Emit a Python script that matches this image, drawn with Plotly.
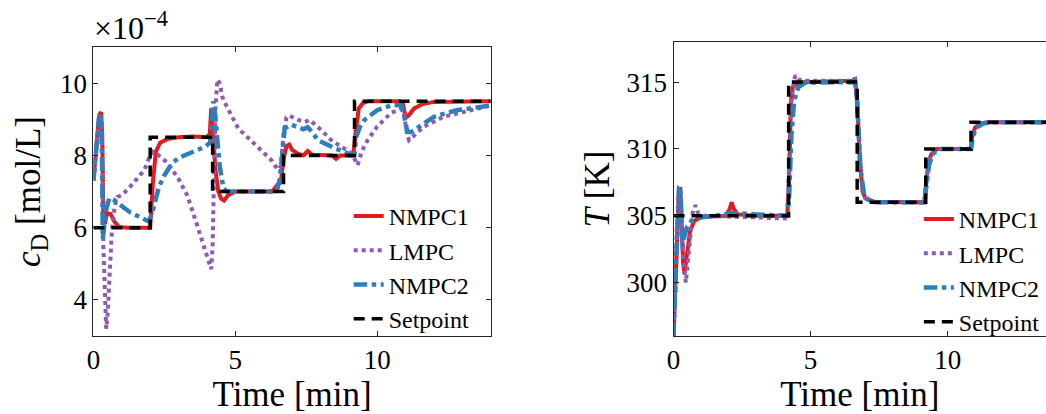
import plotly.graph_objects as go

# ---------------- data: left panel (c_D, in units of 1e-4 mol/L) ----------------
sp_c_t = [0.0, 2.0, 4.2, 6.7, 9.2, 14.0]
sp_c_v = [6.0, 8.5, 7.0, 8.0, 9.5, 9.5]

n1_c_t = [0.0, 0.1, 0.2, 0.27, 0.31, 0.35, 0.40, 0.48, 0.6, 0.75, 0.9, 1.2, 2.0, 2.1, 2.2, 2.35, 2.6, 3.0, 3.5, 4.0,
          4.1, 4.15, 4.22, 4.3, 4.4, 4.5, 4.6, 4.75, 5.0, 6.3, 6.5, 6.6, 6.7, 6.8, 6.9, 7.0, 7.2, 7.4, 7.55, 7.7,
          8.4, 8.55, 8.7, 9.15, 9.25, 9.35, 9.5, 9.7, 10.8, 10.9, 11.0, 11.1, 11.3, 11.6, 12.0, 14.0]
n1_c_v = [7.3, 8.3, 9.1, 9.2, 8.6, 6.3, 6.1, 6.4, 6.38, 6.15, 6.02, 6.0, 6.0, 7.3, 8.1, 8.35, 8.45, 8.5, 8.52, 8.5,
          8.6, 9.3, 8.6, 7.6, 7.0, 6.8, 6.75, 6.9, 7.0, 7.0, 7.2, 7.25, 7.9, 8.25, 8.3, 8.15, 8.05, 8.0, 8.12, 8.02,
          8.0, 7.9, 8.0, 8.0, 8.7, 9.3, 9.45, 9.5, 9.5, 9.45, 9.05, 9.1, 9.3, 9.42, 9.48, 9.5]

lm_c_t = [0.0, 0.1, 0.2, 0.27, 0.31, 0.35, 0.40, 0.45, 0.5, 0.58, 0.65, 0.75, 0.85, 1.0, 1.2, 1.5, 1.8, 1.97, 2.1, 2.3,
          2.6, 3.0, 3.3, 3.6, 3.85, 4.05, 4.15, 4.2, 4.25, 4.3, 4.37, 4.45, 4.55, 4.7, 5.1, 5.5, 5.8, 6.27, 6.5, 6.6,
          6.7, 6.8, 6.9, 7.22, 7.45, 7.62, 8.03, 8.38, 8.73, 9.02, 9.2, 9.31, 9.45, 9.66, 10.0, 10.48, 10.85, 10.95,
          11.05, 11.12, 11.3, 11.64, 12.34, 13.27, 14.0]
lm_c_v = [7.3, 8.3, 9.0, 9.05, 8.0, 5.5, 3.8, 3.2, 3.6, 5.0, 5.9, 6.6, 6.85, 6.9, 7.05, 7.32, 7.6, 7.95, 8.1, 8.0,
          7.8, 7.35, 6.9, 6.2, 5.6, 5.1, 4.85, 5.5, 7.5, 9.3, 10.1, 10.0, 9.6, 9.35, 8.75, 8.45, 8.24, 7.87, 7.6, 7.7,
          8.6, 9.05, 9.1, 8.98, 8.93, 8.98, 8.7, 8.42, 8.24, 8.1, 7.9, 7.73, 8.1, 8.42, 8.8, 9.17, 9.3, 9.1,
          8.6, 8.42, 8.55, 8.79, 9.07, 9.25, 9.38]

n2_c_t = [0.0, 0.1, 0.2, 0.27, 0.3, 0.33, 0.38, 0.45, 0.56, 0.7, 1.03, 1.3, 1.61, 1.96, 2.1, 2.31, 2.5, 2.77, 3.0, 3.36,
          3.7, 3.94, 4.11, 4.18, 4.23, 4.28, 4.35, 4.45, 4.58, 4.7, 6.45, 6.56, 6.65, 6.74, 6.97, 7.2, 7.4, 7.55,
          7.7, 7.91, 8.2, 8.5, 8.85, 9.1, 9.2, 9.25, 9.4, 9.55, 10.0, 10.48, 10.83, 10.95, 11.06, 11.2, 11.4, 12.0,
          12.8, 14.0]
n2_c_v = [7.3, 8.3, 9.05, 9.1, 8.2, 5.7, 6.0, 6.5, 6.82, 6.78, 6.58, 6.42, 6.3, 6.17, 6.5, 7.13, 7.45, 7.78, 7.93, 8.06,
          8.17, 8.24, 8.35, 9.0, 9.5, 9.2, 8.5, 7.7, 7.1, 7.0, 7.0, 7.3, 8.0, 8.75, 8.85, 8.78, 8.72, 8.78,
          8.65, 8.42, 8.3, 8.2, 8.1, 8.0, 8.05, 8.5, 8.8, 8.98, 9.25, 9.38, 9.4, 9.1, 8.65, 8.65, 8.75, 9.07,
          9.25, 9.38]

# ---------------- data: right panel (T, K) ----------------
sp_T_t = [0.0, 4.2, 6.7, 9.2, 10.85, 14.0]
sp_T_v = [305, 315, 306, 310, 312, 312]

n1_T_t = [0, 0.05, 0.12, 0.2, 0.25, 0.3, 0.35, 0.4, 0.48, 0.6, 0.75, 1.0, 1.9, 2.05, 2.12, 2.2, 2.35, 3.0, 4.15,
          4.22, 4.28, 4.35, 4.5, 4.8, 6.55, 6.62, 6.7, 6.8, 6.9, 7.0, 7.3, 9.15, 9.22, 9.3, 9.4, 9.6, 10.85,
          10.9, 11.0, 11.2, 11.5, 14.0]
n1_T_v = [296, 299, 304, 307, 307, 304, 301.5, 300.7, 302, 303.8, 304.6, 304.9, 305.0, 305.5, 306.0, 305.5, 305.1,
          305.0, 305.0, 308, 313.5, 314.6, 314.9, 315.0, 315.1, 315.3, 313.5, 309, 306.8, 306.3, 306.05, 306.0,
          307.5, 309.0, 309.6, 310.0, 310.0, 311.0, 311.6, 311.9, 312.0, 312.0]

lm_T_t = [0, 0.05, 0.12, 0.2, 0.25, 0.3, 0.38, 0.45, 0.52, 0.6, 0.7, 0.8, 0.9, 1.1, 2.0, 3.0, 4.15, 4.22, 4.3, 4.4,
          4.45, 4.55, 4.8, 6.55, 6.62, 6.7, 6.8, 6.9, 7.0, 7.3, 9.15, 9.22, 9.3, 9.4, 9.6, 10.85, 10.9, 11.0, 11.2,
          11.5, 14.0]
lm_T_v = [296, 299, 304, 306.5, 306.3, 303.5, 301, 300, 301.5, 303.5, 305.2, 305.8, 305.2, 305.0, 304.95, 304.85,
          304.8, 309, 313.5, 315.2, 315.5, 315.2, 315.1, 315.1, 315.2, 313.5, 309, 306.8, 306.3, 306.0, 306.0,
          307.5, 309.0, 309.6, 310.0, 310.0, 311.0, 311.6, 311.9, 312.0, 312.0]

n2_T_t = [0, 0.05, 0.12, 0.2, 0.25, 0.3, 0.33, 0.4, 0.5, 0.65, 0.9, 1.5, 2.2, 3.0, 4.15, 4.22, 4.3, 4.4, 4.55, 4.8,
          6.55, 6.62, 6.7, 6.82, 6.95, 7.1, 7.4, 9.15, 9.22, 9.32, 9.45, 9.7, 10.85, 10.93, 11.05, 11.3, 11.6, 14.0]
n2_T_v = [296, 299, 304, 307.1, 307.1, 304, 302.7, 303.5, 304.2, 304.6, 304.85, 305.0, 305.2, 305.1, 305.0, 306.5,
          311, 313.6, 314.6, 314.95, 315.0, 315.1, 313.5, 308.5, 306.6, 306.2, 306.0, 306.0, 307.2, 308.8, 309.6,
          310.0, 310.0, 311.0, 311.6, 311.9, 312.0, 312.0]

names = ["NMPC1", "LMPC", "NMPC2", "Setpoint"]
x_ticks = [0, 5, 10]
c_ticks = [4, 6, 8, 10]
T_ticks = [300, 305, 310, 315]
scale_label = "×10<sup>−4</sup>"

# ---------------- styles ----------------
RED = "#E41A1C"
PURPLE = "#8E5BB4"
BLUE = "#2F7EBC"
FONT = "Liberation Serif"
W, H = 1046, 414

styles = [
    dict(color=RED, width=4, dash="solid"),
    dict(color=PURPLE, width=4, dash="dot"),
    dict(color=BLUE, width=4.5, dash="dashdot"),
    dict(color="black", width=3.5, dash="11px,7px"),
]

fig = go.Figure()

left = [(n1_c_t, n1_c_v), (lm_c_t, lm_c_v), (n2_c_t, n2_c_v), (sp_c_t, sp_c_v)]
right = [(n1_T_t, n1_T_v), (lm_T_t, lm_T_v), (n2_T_t, n2_T_v), (sp_T_t, sp_T_v)]

for i, (t, v) in enumerate(left):
    fig.add_trace(go.Scatter(x=t, y=v, mode="lines", name=names[i], line=styles[i],
                             line_shape="hv" if i == 3 else "linear",
                             xaxis="x", yaxis="y", legend="legend"))
for i, (t, v) in enumerate(right):
    fig.add_trace(go.Scatter(x=t, y=v, mode="lines", name=names[i], line=styles[i],
                             line_shape="hv" if i == 3 else "linear",
                             xaxis="x2", yaxis="y2", legend="legend2"))

axis_common = dict(showline=True, linecolor="#262626", linewidth=1, ticks="inside", ticklen=5,
                   tickcolor="#262626", showgrid=False, zeroline=False,
                   tickfont=dict(family=FONT, size=27, color="black"))
title_font = dict(family=FONT, size=35, color="black")

def px_x(p):
    return p / W

def px_y(p):
    return 1 - p / H

legend_font = dict(family=FONT, size=24, color="black")

fig.update_layout(
    width=W, height=H, autosize=False,
    margin=dict(l=0, r=0, t=0, b=0),
    paper_bgcolor="white", plot_bgcolor="white",
    xaxis=dict(domain=[px_x(87), px_x(487)], range=[0, 14], tickvals=x_ticks, mirror="ticks",
               anchor="y", title=dict(text="Time [min]", font=title_font, standoff=6), **axis_common),
    yaxis=dict(domain=[px_y(336), px_y(47)], range=[3, 11], tickvals=c_ticks, mirror="ticks",
               anchor="x", title=dict(text="<i>c</i><sub>D</sub> [mol/L]", font=title_font, standoff=8),
               **axis_common),
    xaxis2=dict(domain=[px_x(671), 1.0], range=[0, (W - 671) / 27.6], tickvals=x_ticks, mirror="ticks",
                anchor="y2", title=dict(text="Time [min]", font=title_font, standoff=6), **axis_common),
    yaxis2=dict(domain=[px_y(336), px_y(42)], range=[296, 318], tickvals=T_ticks, mirror=False,
                anchor="x2", title=dict(text="<i>T</i> [K]", font=title_font, standoff=6), **axis_common),
    legend=dict(x=px_x(344), y=px_y(194), xanchor="left", yanchor="top", bgcolor="rgba(0,0,0,0)",
                font=legend_font, borderwidth=0, tracegroupgap=0),
    legend2=dict(x=px_x(918), y=px_y(197), xanchor="left", yanchor="top", bgcolor="rgba(0,0,0,0)",
                 font=legend_font, borderwidth=0, tracegroupgap=0),
)

fig.add_annotation(text=scale_label, xref="paper", yref="paper", x=px_x(86), y=px_y(26),
                   xanchor="left", yanchor="middle", showarrow=False,
                   font=dict(family=FONT, size=32, color="black"))

fig.write_html("out.html", config={"displayModeBar": False})
